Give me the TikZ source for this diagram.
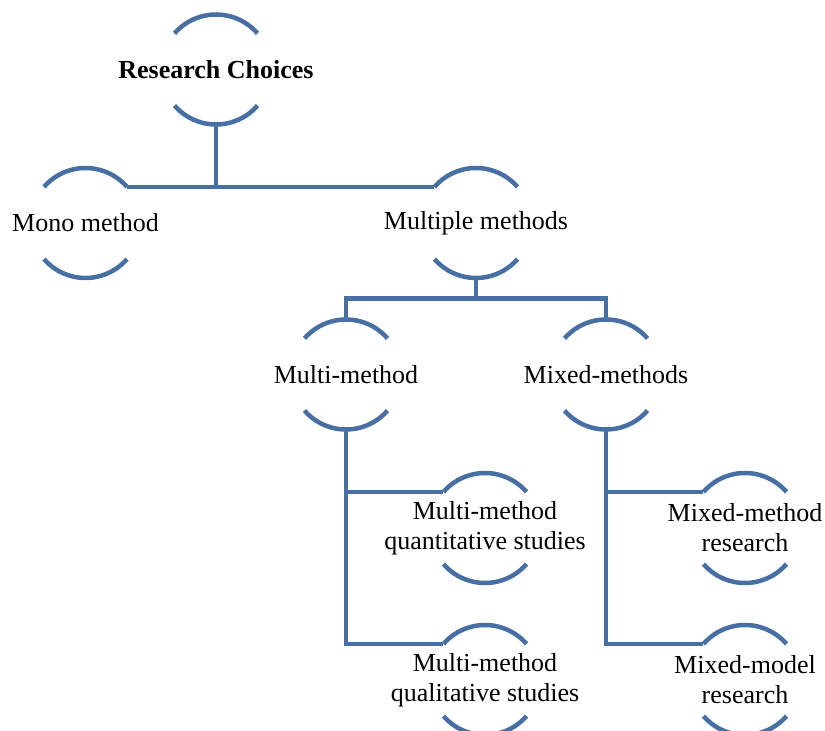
\documentclass[tikz,border=0pt]{standalone}
\usepackage{fontspec}
\setmainfont{Liberation Serif}
\usetikzlibrary{calc}
\definecolor{linkblue}{RGB}{72,111,163}
\begin{document}
\begin{tikzpicture}[x=1pt,y=1pt,
  choicetext/.style={align=center, font=\fontsize{26}{30}\selectfont, inner sep=0pt},
  choice/.style={circle, minimum size=110pt, inner sep=0pt, outer sep=0pt,
    label={[choicetext]center:#1}},
  arcline/.style={draw=linkblue, line width=4.5pt},
  link/.style={draw=linkblue, line width=4.5pt}]
\useasboundingbox (0,0) rectangle (825,731);

% choice nodes (fixed circle, text set as a centred label)
\node[choice={\textbf{Research Choices}}] (rc) at (216,661.5) {};
\node[choice={Mono method}]               (mono)  at (85.5,508)  {};
\node[choice={Multiple methods}]          (mm)    at (476,508)   {};
\node[choice={Multi-method}]              (multi) at (346,356.5) {};
\node[choice={Mixed-methods}]             (mixed) at (606,356.5) {};
\node[choice={Multi-method\\quantitative studies}] (quant) at (485,203) {};
\node[choice={Multi-method\\qualitative studies}]  (qual)  at (485,51)  {};
\node[choice={Mixed-method\\research}]    (mmr)   at (745,203)   {};
\node[choice={Mixed-model\\research}]     (mmod)  at (745,51)    {};

% upper and lower arcs of every node
\foreach \n in {rc,mono,mm,multi,mixed,quant,qual,mmr,mmod}{
  \draw[arcline] (\n.41) arc[start angle=41, end angle=139, radius=55pt];
  \draw[arcline] (\n.221) arc[start angle=221, end angle=319, radius=55pt];
}

% connectors
\draw[link] (mono.41) -- (mm.139);
\draw[link] (rc.south) -- (rc.south |- mono.41);

\coordinate (split) at ($(mm.south)!0.5!(mm.south |- multi.north)$);
\draw[link] (mm.south) -- (split);
\draw[link] (multi.north) |- (split) -| (mixed.north);

\draw[link] (multi.south) |- (qual.139);
\draw[link] (multi.south |- quant.139) -- (quant.139);

\draw[link] (mixed.south) |- (mmod.139);
\draw[link] (mixed.south |- mmr.139) -- (mmr.139);
\end{tikzpicture}
\end{document}
